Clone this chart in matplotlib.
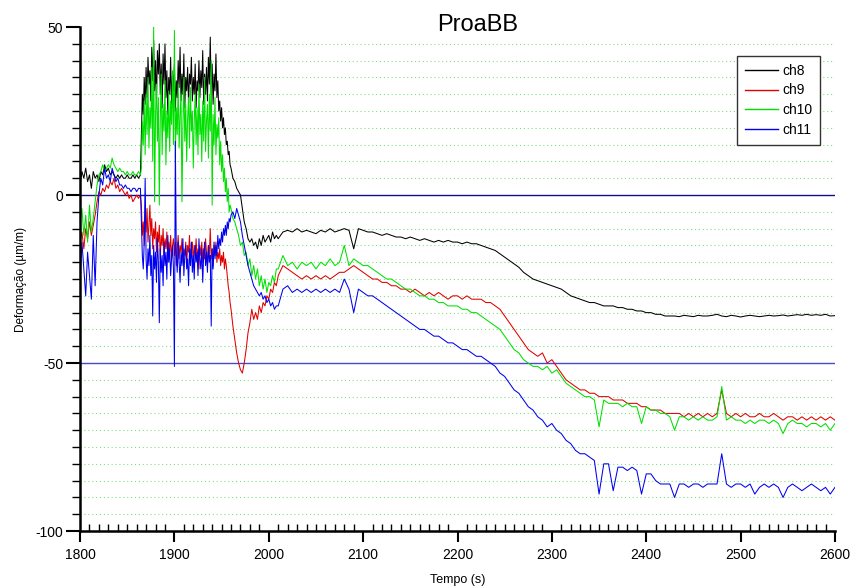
import numpy as np
import matplotlib
matplotlib.use('Agg')
import matplotlib.pyplot as plt

plt.rcParams['font.family'] = ['Liberation Sans', 'DejaVu Sans']
plt.rcParams['axes.unicode_minus'] = False

# tempo de amostragem (s): trechos com passos diferentes
t = np.concatenate([np.arange(1800, 1865, 2), np.arange(1865, 1960, 1),
                    np.arange(1960, 2009, 2), np.arange(2010, 2601, 5)])

ch8 = [3, 7, 5, 8, 4, 6, 2, 7, 5, 6, 4, 7, 6, 9, 7, 8, 6, 7, 6, 5, 6, 5, 6, 5, 5, 6, 5, 5, 6, 5, 6, 5, 6,
       18, 30, 24, 35, 27, 38, 29, 41, 33, 37,
       28, 44, 34, 46, 31, 40, 27, 43, 36, 45,
       30, 39, 26, 42, 33, 45, 29, 37, 24, 35,
       30, 41, 27, 36, 31, 39, 25, 34, 29, 40,
       32, 44, 28, 36, 30, 42, 26, 35, 31, 38,
       27, 36, 33, 41, 28, 35, 30, 39, 26, 34,
       31, 40, 29, 37, 32, 43, 27, 36, 30, 38,
       28, 41, 33, 47, 30, 39, 27, 36, 31, 42,
       29, 34, 25, 28, 22, 26, 20, 23, 18, 20,
       15, 16, 12, 13, 9,
       8, 5, 4, 2, 1, 0, -4, -8, -10, -13,
       -14, -13, -15, -14, -16, -13, -15, -12, -14, -13,
       -12, -14, -11, -13, -12,
       -13, -11, -10.5, -11, -10, -11, -10.5, -11, -11.5, -10.5,
       -11, -10, -11, -10.5, -10, -10.5, -16, -10, -10.5, -11,
       -11, -11.5, -12, -11.5, -12, -12.5, -12.5, -13, -12.5, -13,
       -13.5, -13, -13.5, -14, -13.5, -14, -13.5, -14, -14, -14.5,
       -14, -14.5, -14.5, -15, -15.5, -16, -16.5, -17.5, -18.5, -19.5,
       -20.5, -21.5, -23, -24, -25, -25.5, -26, -26.5, -27, -27.5,
       -28, -29, -30, -30.5, -31, -31.5, -32, -32, -32.5, -33,
       -33, -33, -33.5, -33.5, -34, -34, -34.5, -34.5, -35, -35,
       -35.5, -35.5, -36, -36, -36, -36.2, -35.8, -36, -36.2, -35.8,
       -36, -36, -35.8, -35.5, -36, -36.2, -35.8, -36, -36.3, -36,
       -35.8, -36, -36.2, -36, -35.8, -36, -35.9, -35.7, -36, -35.8,
       -35.6, -35.8, -35.5, -35.8, -35.6, -35.8, -35.5, -36, -35.9]

ch9 = [-14, -11, -16, -10, -13, -8, -12, -9, -6, -2, 1, 0, 2, 1, 3, 2, 4, 3, 5, 2,
       3, 1, 2, 1, 0, 1, -1, 0, -2, -1, 0, -1, 0,
       -3, -12, -8, -15, -6, -11, -4, -14, -9, -3,
       -12, -7, -16, -10, -13, -8, -17, -11, -14, -9,
       -19, -12, -15, -10, -18, -13, -16, -11, -20, -14,
       -17, -12, -19, -15, -13, -18, -14, -21, -16, -12,
       -19, -15, -17, -13, -20, -16, -18, -14, -21, -15,
       -17, -12, -19, -16, -14, -20, -15, -18, -13, -19,
       -16, -22, -15, -18, -14, -20, -16, -19, -13, -17,
       -21, -15, -18, -10, -19, -16, -21, -15, -18, -14,
       -20, -17, -19, -16, -21, -18, -20, -17, -22, -19,
       -21, -24, -27, -29, -32,
       -34, -39, -43, -47, -50, -52, -53, -50, -46, -41,
       -38, -34, -37, -35, -37, -33, -35, -32, -33, -30,
       -31, -28, -29, -26, -27,
       -24, -21, -22, -23, -24, -25, -24, -25, -24, -25,
       -24, -25, -24, -23, -23, -22, -21, -22, -23, -24,
       -25, -25, -26, -26, -27, -27, -28, -28, -29, -28,
       -29, -30, -29, -30, -29, -30, -31, -30, -30, -31,
       -30, -31, -31, -31, -32, -32, -33, -34, -36, -38,
       -40, -42, -44, -46, -47, -48, -47, -50, -49, -51,
       -53, -55, -56, -57, -58, -58, -59, -59, -60, -60,
       -60, -61, -61, -61, -62, -62, -62, -63, -63, -64,
       -64, -64, -65, -65, -65, -65, -66, -65, -66, -65,
       -66, -65, -66, -65, -58, -65, -66, -65, -66, -65,
       -66, -66, -65, -66, -66, -65, -66, -67, -66, -66,
       -67, -66, -67, -66, -67, -66, -67, -66, -67]

ch10 = [-8, -4, -12, -6, -14, -3, -11, -7, -2, 3, 6, 7, 9, 7, 8, 9, 8, 11, 9, 8,
        7, 8, 7, 7, 6, 7, 6, 6, 7, 6, 6, 7, 6,
        8, 22, 15, 28, 12, 30, 18, 35, 14, 26,
        20, 38, 10, 50, -2, 24, 33, 16, 29, -3,
        22, 36, 12, 27, 19, 34, 9, 25, 17, 31,
        13, 28, 21, 37, 15, 49, 11, 26, 18, 33,
        14, 24, 30, -2, 20, 35, 16, 27, 10, 23,
        29, 14, 32, 19, 25, 8, 22, 30, 15, 26,
        12, 33, 18, 24, 10, 28, 16, 35, 13, 22,
        27, 11, 30, 19, 40, -3, 24, 15, 29, 12,
        21, 17, 23, 9, 16, 7, 12, 4, 8, 1,
        5, -2, 2, -5, -3,
        -4, -7, -8, -10, -12, -15, -14, -18, -17, -21,
        -19, -24, -21, -25, -22, -27, -24, -28, -25, -29,
        -26, -27, -24, -26, -22,
        -22, -18, -21, -20, -22, -20, -21, -20, -22, -20,
        -21, -19, -21, -20, -15, -21, -19, -20, -21, -21,
        -22, -23, -24, -25, -25, -26, -27, -28, -28, -29,
        -30, -30, -31, -31, -32, -32, -33, -33, -33, -34,
        -34, -35, -35, -36, -37, -38, -39, -40, -42, -44,
        -46, -47, -49, -50, -51, -51, -52, -51, -53, -52,
        -54, -56, -57, -58, -59, -60, -60, -61, -69, -61,
        -62, -62, -62, -63, -62, -63, -63, -68, -63, -64,
        -64, -65, -65, -66, -70, -66, -66, -67, -66, -67,
        -66, -67, -67, -66, -57, -67, -66, -67, -67, -68,
        -67, -68, -67, -67, -68, -67, -68, -71, -68, -67,
        -68, -68, -69, -68, -68, -69, -68, -70, -68]

ch11 = [-26, -14, -22, -30, -17, -24, -31, -12, -27, -8, 0, 5, 3, 8, 5, 6, 4, 8, 6, 4,
        5, 3, 3, 2, 3, 2, 2, 1, 2, 2, 1, 2, 2,
        -8, -18, -22, -14, 5, -19, -25, -16, -21, -12,
        -24, -18, -36, -15, -22, -17, -26, -13, -20, -38,
        -16, -23, -18, -27, -14, -21, -17, -25, -12, -20,
        -16, -24, -19, -15, -22, -51, 16, -18, -23, -14,
        -20, -26, -17, -21, -13, -24, -18, -15, -22, -19,
        -27, -16, -21, -14, -23, -18, -25, -15, -20, -17,
        -24, -13, -19, -22, -16, -26, -18, -14, -21, -17,
        -23, -15, -20, -18, -39, -16, -22, -14, -19, -15,
        -18, -12, -16, -13, -15, -11, -14, -10, -12, -9,
        -12, -8, -10, -7, -8,
        -6, -5, -7, -4, -6, -8, -12, -15, -18, -21,
        -23, -25, -27, -28, -29, -30, -29, -31, -30, -32,
        -31, -33, -32, -34, -33,
        -33, -28, -27, -29, -28, -29, -28, -29, -28, -29,
        -28, -29, -28, -29, -25, -28, -35, -28, -29, -30,
        -30, -31, -32, -33, -34, -35, -36, -37, -38, -39,
        -40, -40, -41, -42, -42, -43, -44, -44, -45, -46,
        -46, -47, -48, -48, -49, -50, -51, -53, -54, -56,
        -58, -59, -61, -63, -64, -66, -67, -69, -68, -70,
        -71, -73, -74, -76, -77, -77, -78, -79, -89, -80,
        -80, -88, -81, -81, -82, -81, -82, -89, -83, -83,
        -85, -86, -86, -86, -90, -86, -86, -87, -86, -86,
        -87, -86, -86, -86, -77, -86, -87, -86, -86, -87,
        -86, -89, -87, -86, -87, -86, -87, -90, -87, -86,
        -87, -88, -87, -86, -87, -88, -87, -89, -87]

names = ['ch8', 'ch9', 'ch10', 'ch11']
cores = ['#000000', '#e00000', '#00e000', '#0000f0']

fig = plt.figure(figsize=(8.57, 5.88), dpi=100)
ax = fig.add_axes([0.0934, 0.0969, 0.8809, 0.8571])

# grade pontilhada verde a cada 5
for yv in np.arange(-95, 50, 5):
    if yv in (0, -50):
        continue
    ax.axhline(yv, color='#7fdf7f', lw=0.8, ls=(0, (1, 2.5)), zorder=1)
ax.axhline(0, color='#10108a', lw=1.0, zorder=1)
ax.axhline(-50, color='#4848d0', lw=1.0, zorder=1)

for y, c, n in zip([ch8, ch9, ch10, ch11], cores, names):
    ax.plot(t, y, color=c, lw=0.75, label=n, zorder=2)

ax.set_xlim(1800, 2600)
ax.set_ylim(-100, 50)
ax.set_xticks(np.arange(1800, 2601, 100))
ax.set_xticks(np.arange(1800, 2601, 10), minor=True)
ax.set_yticks([-100, -50, 0, 50])
ax.set_yticks(np.arange(-100, 51, 5), minor=True)
ax.tick_params(axis='x', which='major', direction='out', length=8, width=1.5, labelsize=10, pad=4)
ax.tick_params(axis='x', which='minor', direction='in', length=5, width=1.0)
ax.tick_params(axis='y', which='major', direction='out', length=10, width=1.5, labelsize=10, pad=2)
ax.tick_params(axis='y', which='minor', direction='out', length=6, width=1.0)
ax.spines['top'].set_visible(False)
ax.spines['right'].set_visible(False)
for s in ('left', 'bottom'):
    ax.spines[s].set_linewidth(1.8)

ax.set_xlabel('Tempo (s)', fontsize=9, labelpad=9)
ax.set_ylabel('Deformação (µm/m)', fontsize=8.5, labelpad=6)

fig.text(0.557, 0.958, 'ProaBB', ha='center', va='center', fontsize=17)

leg = ax.legend(loc='upper right', bbox_to_anchor=(0.98, 0.9425), borderaxespad=0,
                fontsize=10, fancybox=False, framealpha=1, edgecolor='#333333',
                handlelength=2.4, handletextpad=0.3, borderpad=0.55,
                labelspacing=0.42)
leg.get_frame().set_linewidth(1.0)
for h, c in zip(leg.get_lines(), cores):
    h.set_color(c)
    h.set_linewidth(1.0)

fig.savefig('out.png', dpi=100)
